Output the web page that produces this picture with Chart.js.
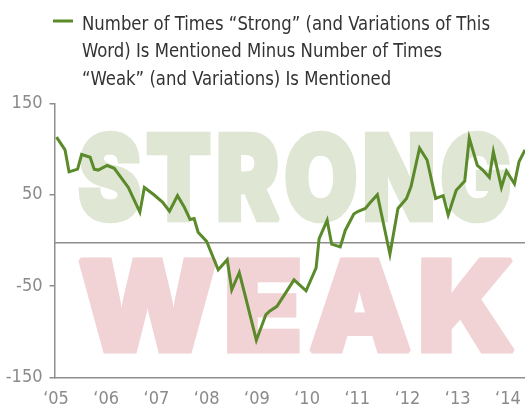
<!DOCTYPE html>
<html>
<head>
<meta charset="utf-8">
<script src="https://cdn.jsdelivr.net/npm/chart.js@4.4.1/dist/chart.umd.min.js"></script>
<style>
  html, body { margin: 0; padding: 0; background: #fff; }
  #wrap { width: 525px; height: 409px; }
</style>
</head>
<body>
<div id="wrap"><canvas id="chart" width="525" height="409"></canvas></div>
<script>
// Legend text (three lines as in the original)
const legendLines = [
    'Number of Times \u201CStrong\u201D (and Variations of This',
    'Word) Is Mentioned Minus Number of Times',
    '\u201CWeak\u201D (and Variations) Is Mentioned'
];

// Series: decimal year / value
const dates = [
    2005.01, 2005.18, 2005.26, 2005.43, 2005.51, 2005.68, 2005.76, 2005.84,
    2006.02, 2006.16, 2006.44, 2006.67, 2006.76, 2006.95,
    2007.12, 2007.26, 2007.42, 2007.55, 2007.67, 2007.75, 2007.83,
    2008.00, 2008.23, 2008.41, 2008.50, 2008.65, 2008.78, 2008.99,
    2009.18, 2009.26, 2009.40, 2009.74, 2009.98,
    2010.18, 2010.24, 2010.40, 2010.49, 2010.66, 2010.76, 2010.93,
    2011.02, 2011.16, 2011.25, 2011.40, 2011.65, 2011.81, 2011.98,
    2012.07, 2012.24, 2012.39, 2012.56, 2012.71, 2012.81, 2012.97,
    2013.14, 2013.23, 2013.39, 2013.50, 2013.63, 2013.71, 2013.87, 2013.97,
    2014.13, 2014.22, 2014.34
];
const values = [
    113, 99, 75, 78, 94, 91, 78, 77,
    82, 79, 58, 31, 58, 50,
    42, 32, 49, 37, 23, 24, 9,
    -1, -32, -21, -54, -35, -63, -109,
    -81, -77, -72, -43, -55,
    -30, 2, 22, -4, -7, 11, 29,
    32, 35, 41, 50, -15, 35, 46,
    59, 101, 88, 46, 49, 28, 55,
    65, 112, 82, 77, 69, 97, 58, 76,
    62, 86, 99
];

const yTicks = [-150, -50, 50, 150];
const xTicks = [2005, 2006, 2007, 2008, 2009, 2010, 2011, 2012, 2013, 2014];
const xLabels = ['\u201805', '\u201806', '\u201807', '\u201808', '\u201809', '\u201810', '\u201811', '\u201812', '\u201813', '\u201814'];
const baseline = -2.5;

const GREEN = '#5a8a2a';
const AXIS = '#8e8e8e';
const CONDENSED = "'Liberation Sans Narrow', 'DejaVu Sans Condensed', Roboto, sans-serif";

// Big faded words behind the line
const bgWords = [
    { text: 'STRONG', color: '#dfe6d4', x0: 2005.44, x1: 2014.05, y0: 121, y1: 19 },
    { text: 'WEAK', color: '#f1d3d5', x0: 2005.44, x1: 2014.15, y0: -19, y1: -124 }
];

const backgroundWords = {
    id: 'backgroundWords',
    beforeDatasetsDraw(chart) {
        const { ctx, scales: { x, y } } = chart;
        bgWords.forEach(w => {
            const left = x.getPixelForValue(w.x0);
            const right = x.getPixelForValue(w.x1);
            const top = y.getPixelForValue(w.y0);
            const bottom = y.getPixelForValue(w.y1);
            ctx.save();
            ctx.font = '900 100px Inter, Lato, "DejaVu Sans", sans-serif';
            ctx.letterSpacing = '5px';
            ctx.textBaseline = 'alphabetic';
            ctx.textAlign = 'left';
            ctx.lineJoin = 'miter';
            ctx.miterLimit = 1.5;
            ctx.lineWidth = 4;
            const m = ctx.measureText(w.text);
            const tw = m.actualBoundingBoxLeft + m.actualBoundingBoxRight + ctx.lineWidth;
            const th = m.actualBoundingBoxAscent + m.actualBoundingBoxDescent + ctx.lineWidth;
            ctx.translate(left, top);
            ctx.scale((right - left) / tw, (bottom - top) / th);
            ctx.fillStyle = w.color;
            ctx.strokeStyle = w.color;
            const tx = m.actualBoundingBoxLeft + ctx.lineWidth / 2;
            const ty = m.actualBoundingBoxAscent + ctx.lineWidth / 2;
            ctx.fillText(w.text, tx, ty);
            ctx.strokeText(w.text, tx, ty);
            ctx.restore();
        });
        // reference line
        const yb = y.getPixelForValue(baseline);
        ctx.save();
        ctx.strokeStyle = AXIS;
        ctx.lineWidth = 1.5;
        ctx.beginPath();
        ctx.moveTo(chart.chartArea.left, yb);
        ctx.lineTo(chart.chartArea.right, yb);
        ctx.stroke();
        ctx.restore();
    }
};

// Legend drawn by hand so the long label can wrap over three lines
const wrappedLegend = {
    id: 'wrappedLegend',
    afterDraw(chart) {
        const { ctx } = chart;
        ctx.save();
        ctx.strokeStyle = GREEN;
        ctx.lineWidth = 3;
        ctx.beginPath();
        ctx.moveTo(53, 21);
        ctx.lineTo(73, 21);
        ctx.stroke();

        ctx.font = '20px ' + CONDENSED;
        ctx.fillStyle = '#333333';
        ctx.textBaseline = 'alphabetic';
        const natural = ctx.measureText(legendLines[0]).width;
        const sx = 408 / natural;
        legendLines.forEach((line, i) => {
            ctx.save();
            ctx.translate(82, 29.5 + i * 27.8);
            ctx.scale(sx, 1);
            ctx.fillText(line, 0, 0);
            ctx.restore();
        });
        ctx.restore();
    }
};

new Chart(document.getElementById('chart'), {
    type: 'line',
    data: {
        datasets: [{
            label: legendLines.join(' '),
            data: dates.map((d, i) => ({ x: d, y: values[i] })),
            borderColor: GREEN,
            backgroundColor: GREEN,
            borderWidth: 3,
            pointRadius: 0,
            tension: 0,
            fill: false
        }]
    },
    options: {
        responsive: false,
        animation: false,
        layout: { padding: { top: 103.3, left: 0, right: 0, bottom: 0 } },
        plugins: {
            legend: { display: false },
            tooltip: { enabled: false }
        },
        scales: {
            x: {
                type: 'linear',
                min: 2004.97,
                max: 2014.34,
                afterFit: s => {
                    s.height = 31.3;
                    s.paddingLeft = 0;
                    s.paddingRight = 0;
                },
                afterBuildTicks: s => { s.ticks = xTicks.map(v => ({ value: v })); },
                grid: { display: false, drawTicks: false },
                border: { display: true, color: AXIS, width: 1.5 },
                ticks: {
                    padding: 11,
                    maxRotation: 0,
                    autoSkip: false,
                    color: '#8a8a8a',
                    font: { family: CONDENSED, size: 18 },
                    callback: v => xLabels[xTicks.indexOf(v)]
                }
            },
            y: {
                min: -150,
                max: 150,
                afterFit: s => { s.width = 54.5; },
                afterBuildTicks: s => { s.ticks = yTicks.map(v => ({ value: v })); },
                grid: { drawOnChartArea: false, drawTicks: true, tickLength: 5, color: AXIS, lineWidth: 1.5 },
                border: { display: true, color: AXIS, width: 1.5 },
                ticks: {
                    padding: 7,
                    color: '#8a8a8a',
                    font: { family: CONDENSED, size: 18 }
                }
            }
        }
    },
    plugins: [backgroundWords, wrappedLegend]
});
</script>
</body>
</html>
